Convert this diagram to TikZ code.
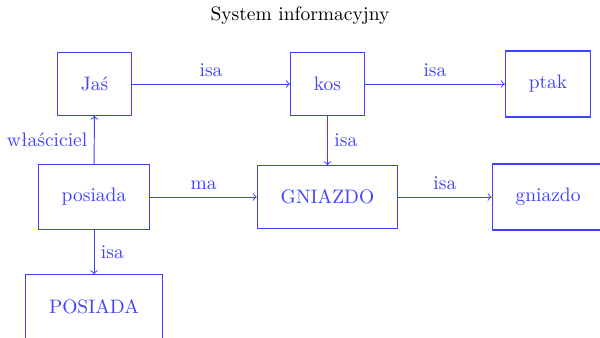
\documentclass[tikz,border=0pt]{standalone}
\usepackage{tikz}
\usetikzlibrary{arrows,calc}
\begin{document}
\begin{tikzpicture}[x=0.5128pt,y=-0.5128pt]

\tikzset{box/.style = {shape=rectangle,draw=blue!75,text=blue!75,line width=0.6pt,inner xsep=12pt,minimum height=32pt}}
\tikzset{edge/.style = {->,draw=blue!75,text=blue!75,line width=0.5pt}}
\clip (0,0) rectangle (600,337);
\node[black] (title) at (300,16) {System informacyjny};

\foreach \pos/\name/\txt/\hgt in {{(94.5,84)/jas/Jaś/32pt}, {(327.5,84)/kos/kos/32pt}, {(548,84)/ptak/ptak/33.8pt},
  {(94,197)/posiada/posiada/33pt}, {(327.5,197)/GN/GNIAZDO/32pt}, {(548,197)/gn/gniazdo/33.8pt}, {(94,307)/POS/POSIADA/33pt}}
\node[box,minimum height=\hgt] (\name) at \pos {\txt};

\foreach \from/\to/\lab/\side in {jas/kos/isa/above, kos/ptak/isa/above, posiada/GN/ma/above,
  GN/gn/isa/above, kos/GN/isa/right, posiada/jas/właściciel/left, posiada/POS/isa/right}
\draw [edge] (\from) -- node[\side] {\lab} (\to);
\end{tikzpicture}
\end{document}
